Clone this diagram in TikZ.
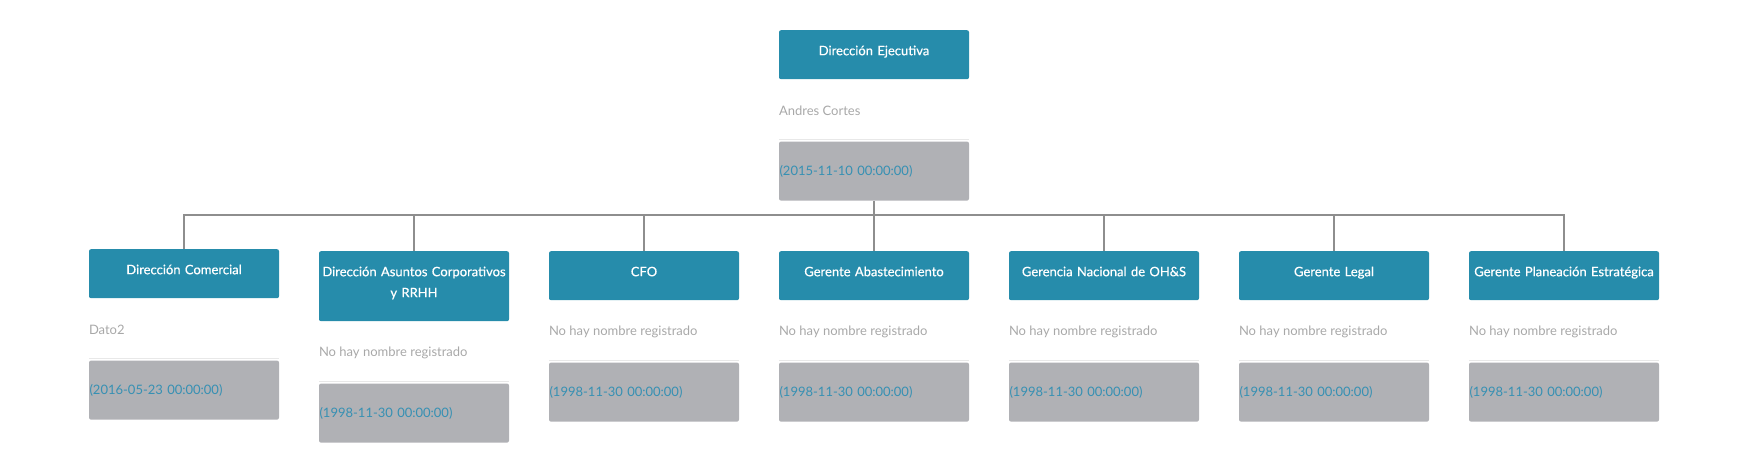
\documentclass[tikz,border=0pt]{standalone}
\usepackage{fontspec}
\setmainfont{Lato}
\newfontfamily\latocargo[FakeBold=0.6]{Lato}
\usetikzlibrary{positioning}

\definecolor{azulcargo}{HTML}{268CAB}
\definecolor{grisfecha}{HTML}{B0B1B5}
\definecolor{grisnombre}{HTML}{A8A8A8}
\definecolor{azulfecha}{HTML}{3690B3}
\definecolor{grislinea}{HTML}{8E8E8E}
\definecolor{grisborde}{HTML}{E8E8E8}

\tikzset{
  cargo/.style={fill=azulcargo, text=white, rounded corners=2pt,
    minimum width=190pt, text width=188pt, align=center,
    inner xsep=1pt, inner ysep=0pt, text height=25pt,
    font=\latocargo\fontsize{13}{21}\selectfont,
    execute at end node={\rule[-24pt]{0pt}{24pt}}},
  nombre/.style={text=grisnombre, inner sep=0pt, anchor=west,
    font=\fontsize{13}{15}\selectfont},
  fecha/.style={fill=grisfecha, text=azulfecha, rounded corners=2pt,
    anchor=north west, minimum width=190pt, minimum height=59pt,
    text width=189pt, inner xsep=0.5pt, align=left,
    font=\fontsize{13}{15}\selectfont},
  borde/.style={grisborde, line width=1pt},
  enlace/.style={grislinea, line width=2pt}
}

\begin{document}
\begin{tikzpicture}[x=1pt, y=-1pt]
    \useasboundingbox (0,0) rectangle (1749,472) ;

    \node[cargo, anchor=north] (t0) at (874,30) {Direcci\'on Ejecutiva} ;
    \node[nombre] (n0) at ([yshift=-31pt]t0.south west) {Andres Cortes} ;
    \node[fecha] (f0) at ([yshift=-62pt]t0.south west) {(2015-11-10 00:00:00)} ;
    \draw[borde] ([yshift=2pt]f0.north west) -- ([yshift=2pt]f0.north east) ;

    \coordinate (bus) at (874,215) ;
    \draw[enlace] (f0.south) -- (bus) ;

    \foreach \n/\xc/\yc/\titulo/\persona/\dia in {
      1/184/249/Direcci\'on Comercial/Dato2/2016-05-23,
      2/414/251/{Direcci\'on Asuntos Corporativos\\ y RRHH}/No hay nombre registrado/1998-11-30,
      3/644/251/CFO/No hay nombre registrado/1998-11-30,
      4/874/251/Gerente Abastecimiento/No hay nombre registrado/1998-11-30,
      5/1104/251/Gerencia Nacional de OH\&S/No hay nombre registrado/1998-11-30,
      6/1334/251/Gerente Legal/No hay nombre registrado/1998-11-30,
      7/1564/251/Gerente Planeaci\'on Estrat\'egica/No hay nombre registrado/1998-11-30} {
      \node[cargo, anchor=north] (t\n) at (\xc,\yc) {\titulo} ;
      \node[nombre] (n\n) at ([yshift=-31pt]t\n.south west) {\persona} ;
      \node[fecha] (f\n) at ([yshift=-62pt]t\n.south west) {(\dia\ 00:00:00)} ;
      \draw[borde] ([yshift=2pt]f\n.north west) -- ([yshift=2pt]f\n.north east) ;
      \draw[enlace] (bus) -| (t\n.north) ;
    } ;
  \end{tikzpicture}
\end{document}
